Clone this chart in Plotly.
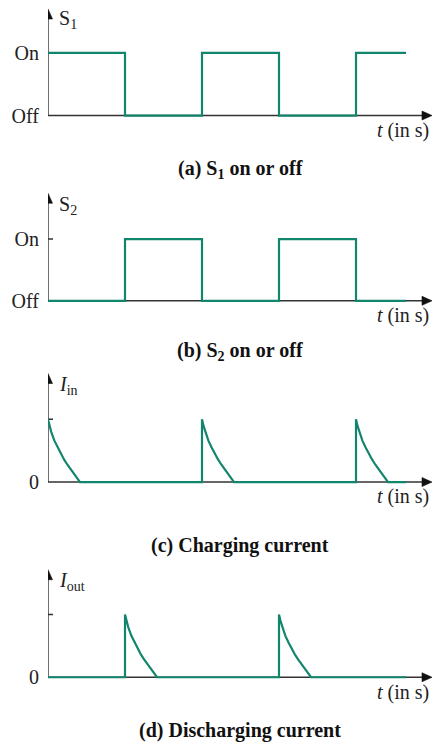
import plotly.graph_objects as go

# ---------------- data ----------------
s1_t = [0, 1, 2, 3, 4, 4.65]
s1_state = [1, 0, 1, 0, 1, 1]
s2_t = [0, 1, 2, 3, 4, 4.65]
s2_state = [0, 1, 0, 1, 0, 0]
state_tick_vals = [0, 1]
state_tick_text = ["Off", "On"]
current_tick_vals = [0]
current_tick_text = ["0"]
decay_t = [0, 0.021, 0.042, 0.083, 0.125, 0.166, 0.208, 0.25, 0.291, 0.333, 0.374, 0.416]
decay_v = [1, 0.89, 0.80, 0.66, 0.55, 0.45, 0.36, 0.28, 0.21, 0.14, 0.07, 0]
charge_pulse_starts = [0, 2, 4]
discharge_pulse_starts = [1, 3]
t_end = 4.65
y_labels = ["S<sub>1</sub>", "S<sub>2</sub>", "<i>I</i><sub>in</sub>", "<i>I</i><sub>out</sub>"]
x_label = "<i>t</i> (in s)"
captions = ["<b>(a) S<sub>1</sub> on or off</b>", "<b>(b) S<sub>2</sub> on or off</b>",
            "<b>(c) Charging current</b>", "<b>(d) Discharging current</b>"]

# ---------------- style / layout ----------------
W, H = 434, 745
GREEN = "#12866d"
AXC = "#333333"
FONT = "Liberation Serif"
X0_PX, PX_PER_T, XTIP_PX = 48, 77, 432

# pixel geometry of each panel
geom = [
    dict(level0=116, level1=53, tip=9, top=4, bottom=124, ylab=20, tlab=131, cap=170),
    dict(level0=302, level1=240, tip=194, top=190, bottom=310, ylab=206, tlab=317, cap=353),
    dict(level0=484, level1=421, tip=375, top=370, bottom=492, ylab=387, tlab=499, cap=548),
    dict(level0=680, level1=617, tip=572, top=566, bottom=688, ylab=584, tlab=695, cap=733),
]


def pulse_train(starts):
    xs, ys = [], []
    for s in starts:
        if s > 0:
            if not xs:
                xs.append(0); ys.append(0)
            xs.append(s); ys.append(0)
        for dt, v in zip(decay_t, decay_v):
            xs.append(s + dt); ys.append(v)
    xs.append(t_end); ys.append(0)
    return xs, ys


series = [
    (s1_t, s1_state, "hv"),
    (s2_t, s2_state, "hv"),
    (*pulse_train(charge_pulse_starts), "linear"),
    (*pulse_train(discharge_pulse_starts), "linear"),
]
ticks = [(state_tick_vals, state_tick_text), (state_tick_vals, state_tick_text),
         (current_tick_vals, current_tick_text), (current_tick_vals, current_tick_text)]

fig = go.Figure()
shapes, annotations = [], []
xrange_max = (W - X0_PX) / PX_PER_T
xtip = (XTIP_PX - X0_PX) / PX_PER_T

for i, (g, (xs, ys, shape), (tv, tt)) in enumerate(zip(geom, series, ticks), start=1):
    xa, ya = f"x{i}" if i > 1 else "x", f"y{i}" if i > 1 else "y"
    scale = g["level0"] - g["level1"]
    ymin = -(g["bottom"] - g["level0"]) / scale
    ymax = (g["level0"] - g["top"]) / scale
    ytip = (g["level0"] - g["tip"]) / scale

    fig.add_trace(go.Scatter(x=xs, y=ys, mode="lines", line=dict(color=GREEN, width=2.2, shape=shape),
                             xaxis=xa, yaxis=ya, showlegend=False, hoverinfo="skip"))

    fig.layout[f"xaxis{i if i > 1 else ''}"] = dict(
        domain=[X0_PX / W, 1], range=[0, xrange_max], visible=False, anchor=ya, fixedrange=True)
    fig.layout[f"yaxis{i if i > 1 else ''}"] = dict(
        domain=[1 - g["bottom"] / H, 1 - g["top"] / H], range=[ymin, ymax], anchor=xa,
        showgrid=False, zeroline=False, showline=False,
        tickmode="array", tickvals=tv, ticktext=tt, ticks="", ticklabelstandoff=8,
        tickfont=dict(family=FONT, size=20, color="#222"), fixedrange=True)

    # axis lines (below traces)
    shapes.append(dict(type="line", xref=xa, yref=ya, x0=0, x1=xtip - 0.08, y0=0, y1=0,
                       line=dict(color=AXC, width=1.4), layer="below"))
    shapes.append(dict(type="line", xref=xa, yref=ya, x0=0, x1=0, y0=0, y1=ytip - 0.1,
                       line=dict(color=AXC, width=1.4), layer="below"))
    # tick mark crossing the y axis at the upper level
    shapes.append(dict(type="line", xref=xa, yref=ya, x0=-5 / PX_PER_T, x1=5 / PX_PER_T, y0=1, y1=1,
                       line=dict(color=AXC, width=1.4), layer="below"))
    # arrowheads (pixel-sized triangles anchored at the axis tips)
    shapes.append(dict(type="path", xref=xa, yref=ya, xsizemode="pixel", ysizemode="pixel",
                       xanchor=xtip, yanchor=0, path="M0,0 L-10,4.5 L-10,-4.5 Z",
                       fillcolor="#111", line=dict(color="#111", width=0.6), layer="above"))
    shapes.append(dict(type="path", xref=xa, yref=ya, xsizemode="pixel", ysizemode="pixel",
                       xanchor=0, yanchor=ytip, path="M0,0 L-4.5,-10 L4.5,-10 Z",
                       fillcolor="#111", line=dict(color="#111", width=0.6), layer="above"))
    # labels
    annotations.append(dict(x=57 / W, y=1 - g["ylab"] / H, xref="paper", yref="paper",
                            text=y_labels[i - 1], showarrow=False, xanchor="left", yanchor="middle",
                            font=dict(family=FONT, size=20, color="#222")))
    annotations.append(dict(x=431 / W, y=1 - g["tlab"] / H, xref="paper", yref="paper",
                            text=x_label, showarrow=False, xanchor="right", yanchor="middle",
                            font=dict(family=FONT, size=20, color="#222")))
    annotations.append(dict(x=240 / W, y=1 - g["cap"] / H, xref="paper", yref="paper",
                            text=captions[i - 1], showarrow=False, xanchor="center", yanchor="middle",
                            font=dict(family=FONT, size=20, color="#111")))

fig.update_layout(width=W, height=H, margin=dict(l=0, r=0, t=0, b=0),
                  paper_bgcolor="white", plot_bgcolor="white",
                  shapes=shapes, annotations=annotations)

fig.write_html("out.html", config={"displayModeBar": False},
               post_script="document.body.style.margin='0';document.body.style.overflow='hidden';")
